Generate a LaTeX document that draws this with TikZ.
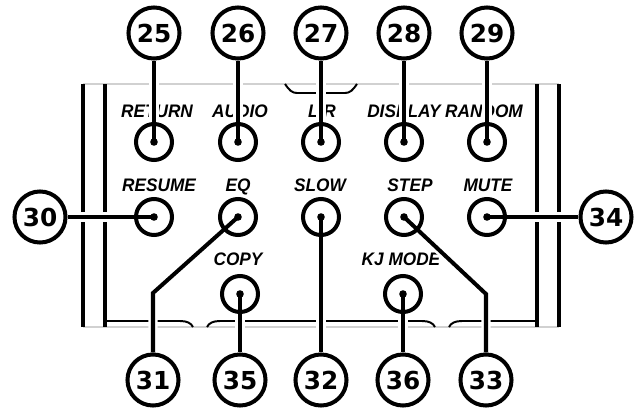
\documentclass[tikz,border=0pt]{standalone}
\usepackage{fontspec}
\setmainfont{Liberation Sans}
\newfontfamily\numfont{DejaVu Sans}
\newfontfamily\keyfont[FakeStretch=0.95]{Liberation Sans}
\usetikzlibrary{backgrounds}
\tikzset{
  btn/.style     = {draw, circle, line width=2.85pt, minimum size=25.6pt, inner sep=0pt},
  callout/.style = {draw, circle, fill=white, line width=2.85pt, minimum size=36.3pt,
                    inner sep=0pt, font=\numfont\bfseries\fontsize{17.6}{18}\selectfont},
  key/.style     = {anchor=base, inner sep=0pt,
                    font=\keyfont\bfseries\itshape\fontsize{12.9}{14}\selectfont},
  lead/.style    = {line width=2.85pt, preaction={draw, white, line width=6.5pt}},
  panel/.style   = {line width=3.2pt},
  rim/.style     = {line width=1.4pt},
  seam/.style    = {black!18, line width=1.1pt},
}

\begin{document}
\begin{tikzpicture}[x=0.025cm, y=-0.025cm]
  \useasboundingbox (0,0) rectangle (640,409);
  % buttons
  \foreach \n/\x/\y in {25/154/142, 26/238/142, 27/321/142, 28/404/142, 29/487/142,
                        30/154/217, 31/238/217, 32/321/217, 33/404/217, 34/487/217,
                        35/240/294, 36/403/294}{
    \node[btn] (b\n) at (\x,\y) {};
    \fill (b\n.center) circle[radius=2.7pt];
  }
  % callouts
  \foreach \n/\x/\y in {25/154/33, 26/238/33, 27/321/33, 28/404/33, 29/487/33,
                        30/40/217, 34/606/217,
                        31/153/380, 35/240/380, 32/321/380, 36/403/380, 33/486/380}{
    \node[callout] (n\n) at (\x,\y) {\n};
  }
  \coordinate (k31) at (153,293);
  \coordinate (k33) at (486,294);
  \begin{scope}[on background layer]
    % panel outline
    \draw[seam] (83,84) -- (559,84);
    \draw[seam] (83,327) -- (559,327);
    \foreach \x in {83,105,537,559}{
      \draw[panel] (\x,84) -- (\x,327);
    }
    \draw[rim] (285,84) .. controls (289,90) and (292,93) .. (297,93)
      -- (345,93) .. controls (350,93) and (353,90) .. (357,84);
    \draw[rim] (105,321) -- (180,321) .. controls (187,321) and (191,323) .. (193,327);
    \draw[rim] (207,327) .. controls (209,323) and (213,321) .. (220,321)
      -- (422,321) .. controls (429,321) and (433,323) .. (435,327);
    \draw[rim] (449,327) .. controls (451,323) and (455,321) .. (462,321) -- (537,321);
    % labels
    \foreach \x/\y/\t in {157/117/RETURN, 240/117/AUDIO, 322/117/{L/R}, 404/117/DISPLAY,
                          484/117/RANDOM, 159/191/RESUME, 238/191/EQ, 320/191/SLOW,
                          410/191/STEP, 488/191/MUTE, 238/265/COPY, 401/265/KJ MODE}{
      \node[key] at (\x,\y) {\t};
    }
    % leaders
    \foreach \n in {25,26,27,28,29,30,32,34,35,36}{
      \draw[lead] (b\n.center) -- (n\n);
    }
    \draw[lead] (b31.center) -- (k31) -- (n31);
    \draw[lead] (b33.center) -- (k33) -- (n33);
  \end{scope}
\end{tikzpicture}
\end{document}
